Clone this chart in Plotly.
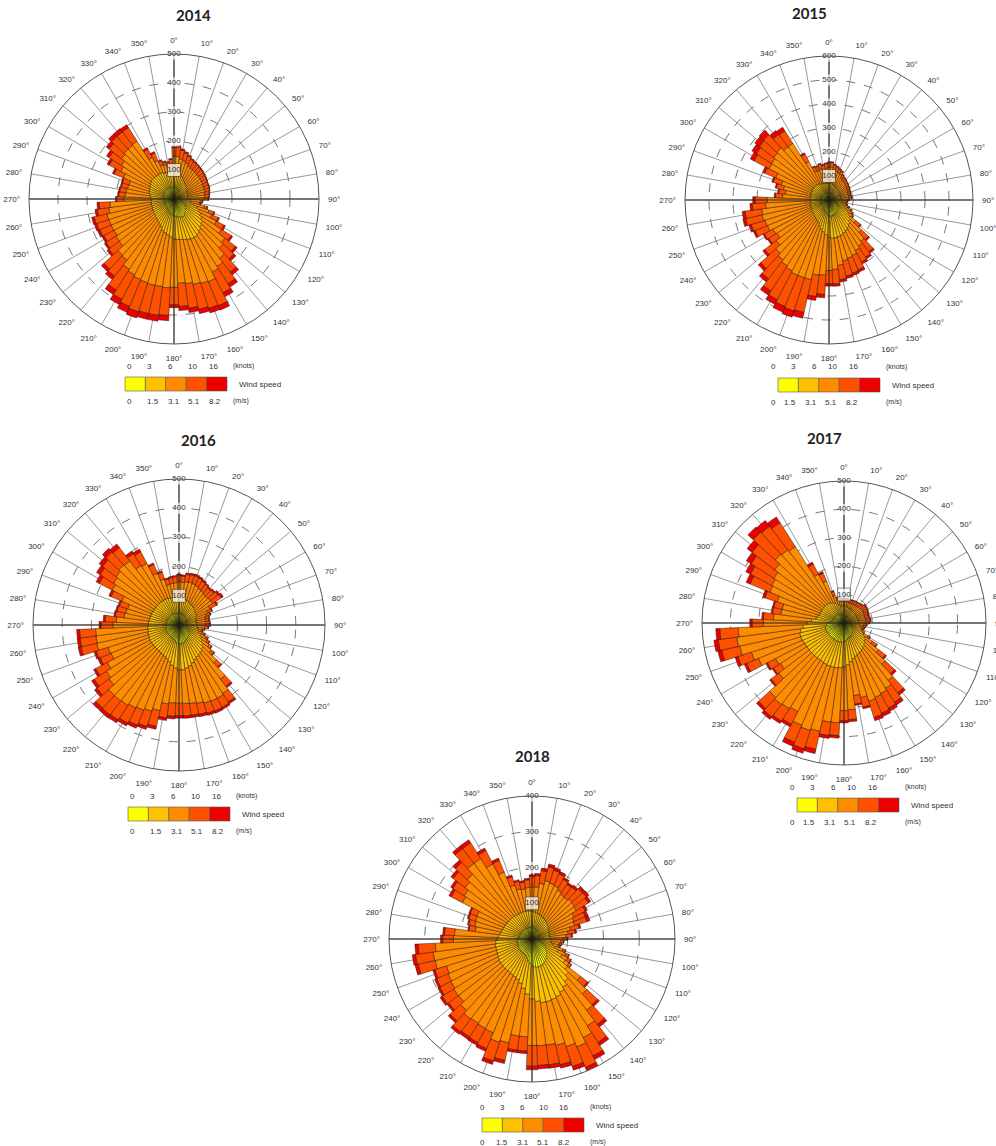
import plotly.graph_objects as go

# ---------------- data ----------------
directions = list(range(0, 360, 5))          # bar centre, degrees (5-degree sectors)
speed_colors = ['#FFFF00', '#FFC000', '#FF8C00', '#FF5000', '#EE0000']
speed_names = ['0-1.5 m/s', '1.5-3.1 m/s', '3.1-5.1 m/s', '5.1-8.2 m/s', '>8.2 m/s']
knots_ticks = ['0', '3', '6', '10', '16']
ms_ticks = ['0', '1.5', '3.1', '5.1', '8.2']
angle_ticks = list(range(0, 360, 10))
angle_labels = [f'{a}°' for a in angle_ticks]

# ---- 2014 ----
y2014_c1 = [40,40,38,36,34,32,30,28,27,26,25,24,22,22,22,21,21,21,22,25,27,30,35,40,45,48,52,55,60,65,68,68,66,64,62,60,
            58,55,52,50,48,45,42,40,38,37,36,36,35,35,34,34,34,34,34,35,36,37,38,39,40,42,42,42,42,42,42,42,40,40,40,40]
y2014_c2 = [55,55,52,49,46,43,40,37,35,34,33,31,30,28,28,27,27,27,28,30,33,40,50,55,60,67,73,75,78,80,82,82,82,81,80,80,
            80,77,73,70,67,60,58,55,52,51,49,49,47,47,46,46,46,46,46,47,49,51,52,53,55,56,58,58,58,58,58,58,55,55,55,55]
y2014_c3 = [53,52,50,50,50,48,50,53,55,55,56,57,60,60,60,62,60,59,54,36,28,38,42,46,60,79,97,100,120,131,135,159,158,157,153,151,
            167,175,180,185,188,196,195,192,176,175,154,153,151,153,155,157,147,141,93,87,82,76,73,97,112,118,128,134,134,137,62,44,29,26,21,27]
y2014_c4 = [30,32,30,28,26,25,24,24,22,22,20,20,18,18,18,16,15,14,14,8,6,10,18,25,30,40,45,50,60,70,80,90,90,88,85,80,
            60,95,100,100,105,100,95,85,70,65,45,40,40,42,45,45,40,38,25,22,22,22,24,35,45,50,55,58,58,55,32,28,15,12,12,15]
y2014_c5 = [5,6,5,5,4,4,4,3,3,3,3,3,2,2,2,2,2,2,2,1,1,2,3,4,5,6,8,10,12,14,15,16,16,15,15,14,
            10,18,20,20,22,22,20,18,14,12,8,7,7,8,8,9,8,7,4,4,4,4,4,6,8,10,12,14,14,12,6,5,3,2,2,3]

# ---- 2015 ----
y2015_c1 = [30,30,29,28,27,26,26,25,24,24,23,22,22,22,22,22,22,22,23,24,25,27,30,34,38,42,46,50,55,58,62,64,66,67,68,68,
            66,62,58,53,49,45,42,40,38,37,36,36,35,34,34,34,33,33,33,33,33,33,34,34,34,35,35,35,35,34,33,32,31,31,30,30]
y2015_c2 = [40,40,39,38,37,36,34,33,32,31,31,30,28,28,28,28,28,28,29,31,33,35,40,46,52,58,64,70,75,80,83,86,89,91,92,92,
            89,83,77,72,66,60,58,55,52,51,49,49,47,46,46,46,45,45,45,45,45,45,46,46,46,47,47,47,47,46,45,43,41,41,40,40]
y2015_c3 = [66,67,61,59,56,54,44,42,42,39,37,37,37,36,33,32,33,33,24,17,12,13,14,18,18,16,31,64,87,90,92,100,100,102,115,130,
            139,169,181,215,225,235,233,230,224,213,193,173,182,198,200,206,205,187,180,116,106,117,129,160,202,202,209,213,198,200,103,56,57,62,59,63]
y2015_c4 = [20,20,18,17,16,15,14,13,12,12,12,11,11,10,10,10,11,12,8,6,4,4,5,6,6,6,25,40,55,55,55,65,65,65,60,60,
            55,80,90,140,145,140,135,125,100,85,60,40,40,55,60,70,70,55,50,30,28,30,35,50,70,75,75,75,65,62,35,20,18,20,18,19]
y2015_c5 = [3,3,3,2,2,2,2,2,2,2,2,2,2,2,2,2,2,2,1,1,1,1,1,1,1,1,4,6,8,8,8,10,10,10,10,10,
            10,14,16,25,27,25,22,20,16,14,10,6,6,8,10,12,12,10,10,5,4,5,6,10,18,22,24,25,20,18,6,3,3,3,3,3]

# ---- 2016 ----
y2016_c1 = [40,40,39,38,37,36,35,34,33,32,31,30,29,28,27,26,26,26,26,27,28,29,31,34,38,41,45,48,50,52,54,56,59,62,64,66,
            66,63,60,56,52,50,49,48,48,48,48,48,48,48,47,47,46,46,45,45,44,44,44,44,43,43,43,43,43,43,43,43,42,41,41,40]
y2016_c2 = [55,55,53,52,51,49,47,46,45,43,41,40,39,37,35,34,34,34,34,35,37,39,41,46,50,54,60,64,68,70,71,74,79,83,86,88,
            88,85,80,74,70,68,66,65,64,64,64,64,64,64,63,63,62,62,60,60,59,59,58,58,57,57,57,57,57,57,57,57,56,56,55,55]
y2016_c3 = [54,51,58,61,61,61,59,59,57,59,64,67,52,41,36,33,31,31,31,26,16,11,16,20,21,28,35,64,116,156,158,153,143,131,122,116,
            114,120,133,171,188,198,206,213,216,215,191,183,165,140,145,179,179,178,122,110,87,84,82,110,158,166,172,180,177,142,138,92,67,45,48,50]
y2016_c4 = [22,22,25,26,28,28,28,26,25,28,32,35,25,16,14,13,12,14,14,12,8,5,6,8,9,10,12,20,30,35,35,36,36,38,40,42,
            43,45,48,55,55,56,58,60,60,60,52,50,45,40,42,55,55,55,40,38,30,30,30,40,50,55,58,60,58,48,45,32,25,20,20,21]
y2016_c5 = [4,4,5,5,6,6,6,5,5,6,7,8,5,3,3,2,2,3,3,2,1,1,1,2,2,2,3,4,6,7,7,8,8,8,8,8,
            8,9,9,10,10,11,11,12,12,12,10,10,8,8,8,10,10,10,7,7,5,5,5,8,12,14,15,16,15,10,10,6,5,4,4,4]

# ---- 2017 ----
y2017_c1 = [26,26,25,24,24,23,22,22,22,22,22,22,22,22,22,22,22,22,22,24,25,27,28,31,34,38,41,44,46,48,50,52,53,56,59,63,
            66,68,68,68,68,68,67,66,66,66,66,66,67,68,68,68,66,62,56,49,43,41,39,38,38,38,38,38,38,37,35,33,31,28,27,26]
y2017_c2 = [34,34,33,32,31,31,30,28,28,28,28,28,28,28,28,28,28,28,30,31,33,35,38,41,46,50,54,58,62,64,66,68,71,74,79,85,
            89,90,92,92,92,90,89,89,89,89,89,89,89,90,92,92,89,83,74,66,57,54,53,52,52,52,52,52,50,49,47,45,41,38,35,34]
y2017_c3 = [16,16,16,17,18,19,22,23,24,25,29,29,29,27,26,26,27,27,23,15,11,7,4,5,16,31,59,95,147,161,164,164,165,139,120,158,
            154,194,192,231,237,232,196,203,207,201,134,110,116,168,182,216,226,228,154,134,124,128,155,193,197,203,218,239,237,233,112,82,30,17,16,16]
y2017_c4 = [10,10,10,10,11,12,12,13,13,14,16,16,15,15,14,14,15,16,13,10,8,5,2,3,8,18,30,45,55,58,58,60,60,35,30,35,
            36,45,48,65,68,65,50,52,55,52,35,30,32,45,50,65,66,65,40,35,30,30,45,75,85,95,100,105,105,100,40,30,15,10,10,10]
y2017_c5 = [2,2,2,2,2,2,2,2,2,3,3,3,3,3,3,3,3,3,2,2,1,1,0,0,1,3,5,8,10,12,12,12,12,6,5,7,
            7,9,10,15,16,15,10,10,11,10,6,5,6,9,10,14,15,14,8,6,5,5,8,15,18,20,22,25,25,24,8,6,3,2,2,2]

# ---- 2018 ----
y2018_c1 = [33,32,31,30,29,28,27,26,26,25,24,23,22,22,21,21,21,21,21,22,23,25,28,33,40,46,52,58,63,68,72,76,78,80,80,78,
            74,68,60,54,50,48,47,46,46,46,45,45,44,43,43,42,42,42,40,39,37,36,36,35,35,34,34,34,34,33,33,33,33,33,33,33]
y2018_c2 = [45,44,43,42,41,40,39,38,36,35,34,33,32,30,29,29,29,29,29,30,32,35,40,47,55,64,73,80,87,92,96,99,100,100,100,97,
            94,87,80,74,70,68,67,66,66,66,65,65,64,63,62,62,62,60,58,55,53,52,50,50,49,49,48,48,47,47,47,47,47,47,47,46]
y2018_c3 = [67,70,83,95,94,93,88,84,85,91,92,91,79,75,75,60,52,45,36,29,23,16,23,22,18,13,46,71,101,128,143,152,138,125,120,124,
            130,119,134,170,183,168,168,168,170,159,149,150,148,148,146,174,175,169,122,123,70,76,80,82,136,142,154,164,186,187,157,123,78,64,61,65]
y2018_c4 = [30,32,36,40,38,36,34,33,36,40,42,40,35,35,36,25,20,16,12,8,6,5,8,10,10,8,25,40,50,55,58,62,58,55,55,55,
            58,40,40,50,55,48,45,45,46,40,35,38,35,35,34,48,50,48,30,28,18,18,20,20,35,38,42,45,52,52,42,35,25,22,20,22]
y2018_c5 = [5,6,7,8,8,7,6,6,7,8,9,8,7,8,9,5,4,3,2,1,1,1,1,2,2,1,4,7,9,10,11,12,11,10,10,10,
            10,7,7,9,10,8,8,8,8,7,6,7,6,6,6,9,9,9,6,5,3,3,4,4,7,7,8,9,10,10,8,7,5,4,4,4]

year_data = {
    '2014': [y2014_c1, y2014_c2, y2014_c3, y2014_c4, y2014_c5],
    '2015': [y2015_c1, y2015_c2, y2015_c3, y2015_c4, y2015_c5],
    '2016': [y2016_c1, y2016_c2, y2016_c3, y2016_c4, y2016_c5],
    '2017': [y2017_c1, y2017_c2, y2017_c3, y2017_c4, y2017_c5],
    '2018': [y2018_c1, y2018_c2, y2018_c3, y2018_c4, y2018_c5],
}
radial_max = {'2014': 500, '2015': 600, '2016': 500, '2017': 500, '2018': 400}

# ---------------- layout geometry (pixels) ----------------
W, H = 996, 1146
panels = {
    '2014': dict(cx=174, cy=199, R=145, title_y=15, leg_x=125, leg_y=377),
    '2015': dict(cx=829, cy=200, R=144, title_y=13, leg_x=778, leg_y=378),
    '2016': dict(cx=179, cy=625, R=146, title_y=440, leg_x=128, leg_y=807),
    '2017': dict(cx=844, cy=623, R=142, title_y=438, leg_x=797, leg_y=798),
    '2018': dict(cx=532, cy=939, R=143, title_y=756, leg_x=482, leg_y=1118),
}
BOX_W, BOX_H = 20.4, 14


def px(x):
    return x / W


def py(y):
    return 1 - y / H


fig = go.Figure()
shapes, annotations = [], []
tick_font = dict(family='Liberation Sans, Arial, sans-serif', size=8, color='#333')

for i, (year, p) in enumerate(panels.items(), start=1):
    sub = 'polar' if i == 1 else f'polar{i}'
    rmax = radial_max[year]
    for vals, col, name in zip(year_data[year], speed_colors, speed_names):
        fig.add_trace(go.Barpolar(
            r=vals, theta=directions, width=5, name=name, subplot=sub, showlegend=False,
            marker=dict(color=col, line=dict(color='#111', width=0.45)),
        ))
    # cardinal axes lines
    fig.add_trace(go.Scatterpolar(
        r=[rmax, 0, rmax, None, rmax, 0, rmax], theta=[0, 0, 180, None, 90, 90, 270],
        mode='lines', line=dict(color='#222', width=1), subplot=sub, showlegend=False, hoverinfo='skip'))
    rt = list(range(100, rmax + 1, 100))
    fig.add_trace(go.Scatterpolar(
        r=rt, theta=[0] * len(rt), text=[str(v) for v in rt], mode='markers+text',
        textposition='middle center', textfont=tick_font,
        marker=dict(symbol='square', size=[13] + [11] * (len(rt) - 1), color='white',
                    line=dict(color=['#333'] + ['white'] * (len(rt) - 1), width=[0.8] + [0] * (len(rt) - 1))),
        subplot=sub, showlegend=False, hoverinfo='skip'))

    fig.update_layout(**{sub: dict(
        domain=dict(x=[px(p['cx'] - p['R']), px(p['cx'] + p['R'])],
                    y=[py(p['cy'] + p['R']), py(p['cy'] - p['R'])]),
        bgcolor='white',
        barmode='stack',
        angularaxis=dict(rotation=90, direction='clockwise', tickmode='array',
                         tickvals=angle_ticks, ticktext=angle_labels, tickfont=tick_font,
                         ticks='outside', ticklen=7, tickcolor='rgba(0,0,0,0)',
                         showline=True, linecolor='#555', linewidth=1,
                         gridcolor='#999', gridwidth=0.6),
        radialaxis=dict(range=[0, rmax], tickvals=rt, showticklabels=False, ticks='',
                        showline=False, gridcolor='#777', gridwidth=0.6, griddash='dash'),
    )})

    # title
    annotations.append(dict(x=px(p['cx']), y=py(p['title_y']), xref='paper', yref='paper',
                            text=f'<b>{year}</b>', showarrow=False, yanchor='middle',
                            font=dict(family='Lato, Open Sans, sans-serif', size=15, color='#222')))
    # legend colour boxes
    for k, col in enumerate(speed_colors):
        x0 = p['leg_x'] + k * BOX_W
        shapes.append(dict(type='rect', xref='paper', yref='paper',
                           x0=px(x0), x1=px(x0 + BOX_W), y0=py(p['leg_y'] + BOX_H), y1=py(p['leg_y']),
                           fillcolor=col, line=dict(color='#555', width=0.6)))
    for k, (kt, mt) in enumerate(zip(knots_ticks, ms_ticks)):
        xk = p['leg_x'] + k * BOX_W
        annotations.append(dict(x=px(xk), y=py(p['leg_y'] - 11), xref='paper', yref='paper', text=kt,
                                yanchor='middle', showarrow=False, font=tick_font))
        annotations.append(dict(x=px(xk), y=py(p['leg_y'] + BOX_H + 10), xref='paper', yref='paper', text=mt,
                                yanchor='middle', showarrow=False, font=tick_font))
    x_end = p['leg_x'] + 5 * BOX_W
    annotations.append(dict(x=px(x_end + 4), y=py(p['leg_y'] - 11), xref='paper', yref='paper', text='(knots)',
                            xanchor='left', yanchor='middle', showarrow=False, font=dict(tick_font, size=7)))
    annotations.append(dict(x=px(x_end + 4), y=py(p['leg_y'] + BOX_H + 10), xref='paper', yref='paper', text='(m/s)',
                            xanchor='left', yanchor='middle', showarrow=False, font=dict(tick_font, size=7)))
    annotations.append(dict(x=px(x_end + 10), y=py(p['leg_y'] + BOX_H / 2), xref='paper', yref='paper',
                            text='Wind speed', xanchor='left', yanchor='middle', showarrow=False,
                            font=dict(tick_font, size=8)))

fig.update_layout(width=W, height=H, margin=dict(l=0, r=0, t=0, b=0),
                  paper_bgcolor='white', plot_bgcolor='white',
                  shapes=shapes, annotations=annotations, showlegend=False)

fig.write_html('out.html', config={'displayModeBar': False},
               post_script="document.body.style.margin='0';document.body.style.overflow='hidden';")
